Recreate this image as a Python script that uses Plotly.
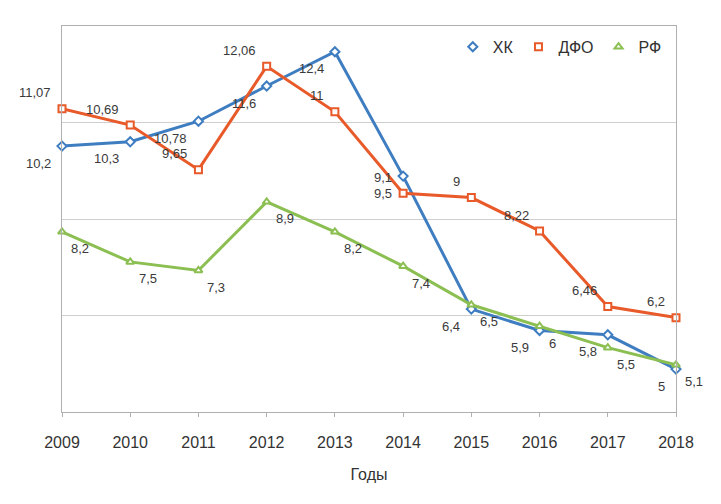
import plotly.graph_objects as go

years = [2009, 2010, 2011, 2012, 2013, 2014, 2015, 2016, 2017, 2018]
xk = [10.2, 10.3, 10.78, 11.6, 12.4, 9.5, 6.4, 5.9, 5.8, 5.0]
dfo = [11.07, 10.69, 9.65, 12.06, 11.0, 9.1, 9.0, 8.22, 6.46, 6.2]
rf = [8.2, 7.5, 7.3, 8.9, 8.2, 7.4, 6.5, 6.0, 5.5, 5.1]
names = ["ХК", "ДФО", "РФ"]
x_title = "Годы"

series = [
    (names[0], xk, "#3f7dc1", "diamond", dict(xanchor="right", xshift=-9, yshift=-17)),
    (names[1], dfo, "#e85a2a", "square", dict(xanchor="right", xshift=-9, yshift=16)),
    (names[2], rf, "#8cbf52", "triangle-up", dict(xanchor="left", xshift=7, yshift=-17)),
]

def fmt(v):
    return ("%g" % v).replace(".", ",")

fig = go.Figure()
annotations = []
for name, vals, col, sym, pos in series:
    mk = dict(symbol=sym, size=7, color="white", line=dict(color=col, width=2))
    fig.add_trace(go.Scatter(
        x=years, y=vals, name=name, mode="lines+markers",
        line=dict(color=col, width=3), marker=mk,
        cliponaxis=False, showlegend=False,
    ))
    # legend entry shows the marker only, as in the reference
    fig.add_trace(go.Scatter(
        x=[None], y=[None], name=name, mode="markers", marker=mk, showlegend=True,
    ))
    for xv, yv in zip(years, vals):
        annotations.append(dict(
            x=xv, y=yv, xref="x", yref="y", text=fmt(yv), showarrow=False,
            yanchor="middle", font=dict(size=13, color="#3a3a3a"), **pos,
        ))

fig.update_layout(
    width=713, height=496,
    margin=dict(l=54, r=45, t=18, b=92),
    paper_bgcolor="white", plot_bgcolor="white",
    font=dict(family="Liberation Sans, Arial, Helvetica, sans-serif", color="#333333"),
    annotations=annotations,
    showlegend=True,
    legend=dict(orientation="h", x=0.985, xanchor="right", y=0.946, yanchor="middle",
                font=dict(size=16, color="#333333"), bgcolor="rgba(0,0,0,0)",
                itemwidth=30, tracegroupgap=0),
)
fig.update_xaxes(
    range=[2009, 2018], tickmode="array", tickvals=years, ticktext=[str(y) for y in years],
    showgrid=False, showline=True, linecolor="#b0b0b0", linewidth=1, mirror=True,
    ticks="outside", ticklen=4, tickcolor="#b0b0b0", tickfont=dict(size=16, color="#333333"),
    ticklabelstandoff=12,
    title=dict(text=x_title, font=dict(size=16, color="#333333"), standoff=18),
    zeroline=False,
)
fig.update_yaxes(
    range=[4, 13], tickvals=[4, 6.25, 8.5, 10.75, 13], showticklabels=False,
    showgrid=True, gridcolor="#cfcfcf", gridwidth=1,
    showline=True, linecolor="#b0b0b0", linewidth=1, mirror=True, ticks="", zeroline=False,
)
fig.write_html("out.html")
